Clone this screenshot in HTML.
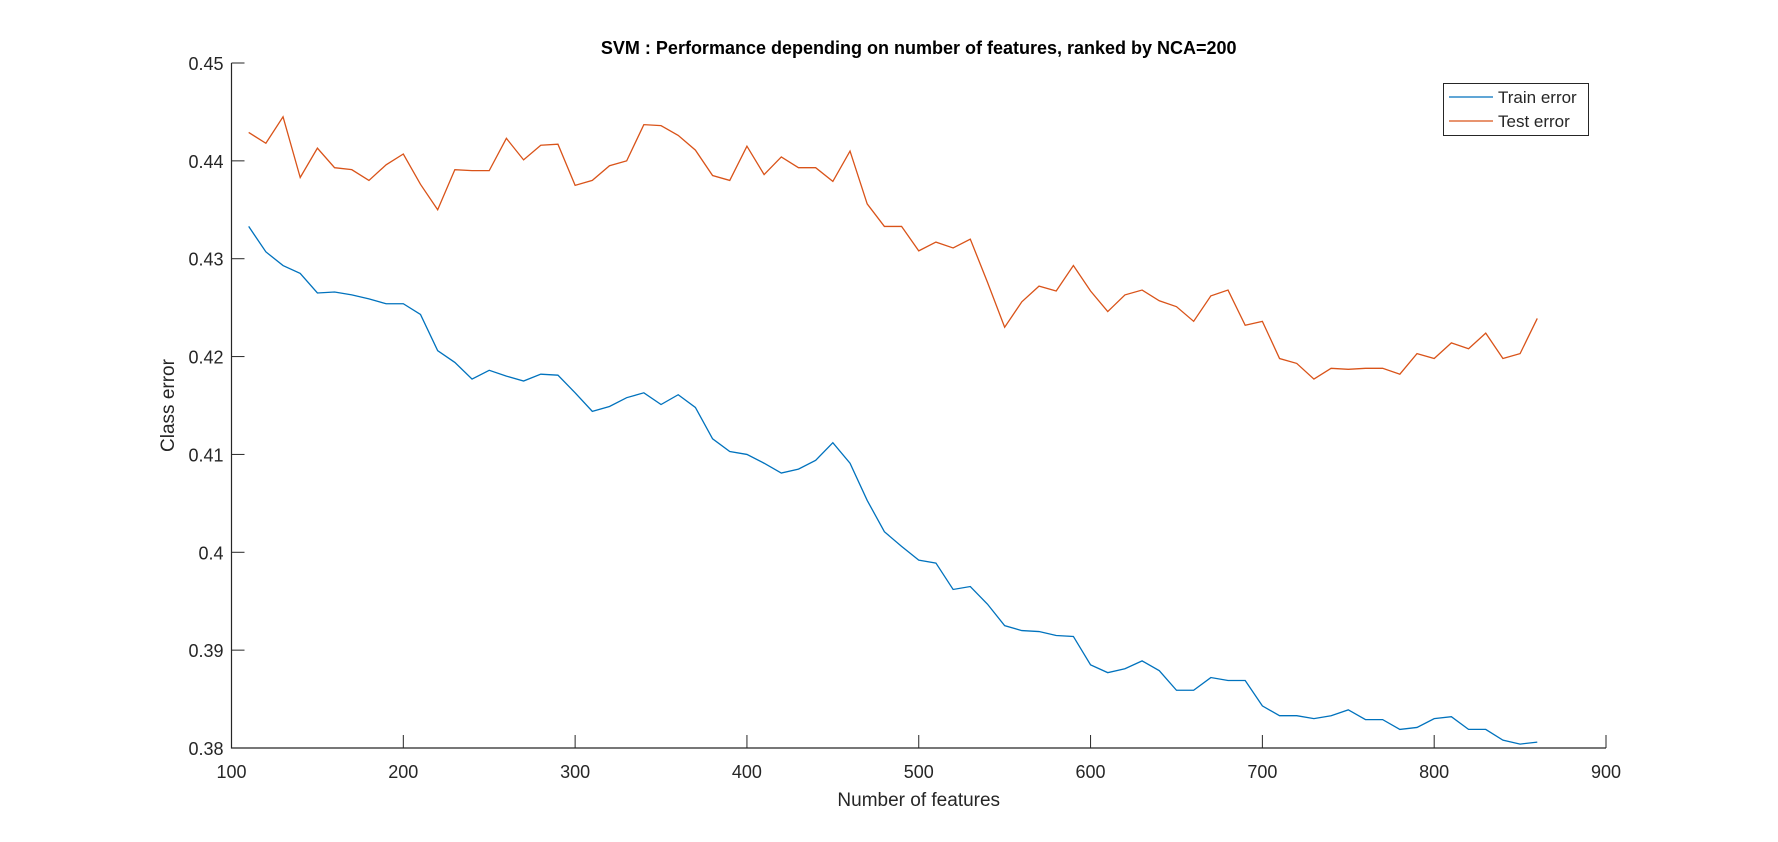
<!DOCTYPE html>
<html><head><meta charset="utf-8"><style>
html,body{margin:0;padding:0;background:#fff;}
svg{display:block;font-family:"Liberation Sans",Arial,sans-serif;}
</style></head><body>
<svg id="chart" width="1778" height="842">
<rect width="1778" height="842" fill="#fff"/>
<g id="axes"></g>
</svg>
<script>
const features = [110,120,130,140,150,160,170,180,190,200,210,220,230,240,250,260,270,280,290,300,310,320,330,340,350,360,370,380,390,400,410,420,430,440,450,460,470,480,490,500,510,520,530,540,550,560,570,580,590,600,610,620,630,640,650,660,670,680,690,700,710,720,730,740,750,760,770,780,790,800,810,820,830,840,850,860];
const testError = [0.4429,0.4418,0.4445,0.4383,0.4413,0.4393,0.4391,0.4380,0.4396,0.4407,0.4376,0.4350,0.4391,0.4390,0.4390,0.4423,0.4401,0.4416,0.4417,0.4375,0.4380,0.4395,0.4400,0.4437,0.4436,0.4426,0.4411,0.4385,0.4380,0.4415,0.4386,0.4404,0.4393,0.4393,0.4379,0.4410,0.4356,0.4333,0.4333,0.4308,0.4317,0.4311,0.4320,0.4276,0.4230,0.4256,0.4272,0.4267,0.4293,0.4267,0.4246,0.4263,0.4268,0.4257,0.4251,0.4236,0.4262,0.4268,0.4232,0.4236,0.4198,0.4193,0.4177,0.4188,0.4187,0.4188,0.4188,0.4182,0.4203,0.4198,0.4214,0.4208,0.4224,0.4198,0.4203,0.4239];
const trainError = [0.4333,0.4307,0.4293,0.4285,0.4265,0.4266,0.4263,0.4259,0.4254,0.4254,0.4243,0.4206,0.4194,0.4177,0.4186,0.4180,0.4175,0.4182,0.4181,0.4163,0.4144,0.4149,0.4158,0.4163,0.4151,0.4161,0.4148,0.4116,0.4103,0.4100,0.4091,0.4081,0.4085,0.4094,0.4112,0.4091,0.4053,0.4021,0.4006,0.3992,0.3989,0.3962,0.3965,0.3947,0.3925,0.3920,0.3919,0.3915,0.3914,0.3885,0.3877,0.3881,0.3889,0.3879,0.3859,0.3859,0.3872,0.3869,0.3869,0.3843,0.3833,0.3833,0.3830,0.3833,0.3839,0.3829,0.3829,0.3819,0.3821,0.3830,0.3832,0.3819,0.3819,0.3808,0.3804,0.3806];
const xTicks = [100,200,300,400,500,600,700,800,900];
const yTicks = [0.38,0.39,0.40,0.41,0.42,0.43,0.44,0.45];
const yTickLabels = ["0.38","0.39","0.4","0.41","0.42","0.43","0.44","0.45"];

const L=231.5,R=1606,T=63,B=748;
const xs=v=>L+(v-100)/800*(R-L);
const ys=v=>B-(v-0.38)/0.07*(B-T);
const NS="http://www.w3.org/2000/svg";
const g=document.getElementById('axes');
function mk(tag,attrs,parent){const e=document.createElementNS(NS,tag);for(const k in attrs)e.setAttribute(k,attrs[k]);(parent||g).appendChild(e);return e;}

const ax=mk('path',{d:`M${L},${T}V${B}H${R}`,fill:'none',stroke:'#262626','stroke-width':1.2});



xTicks.forEach(t=>{
  const x=xs(t);
  const tk=mk('line',{x1:x,x2:x,y1:B,y2:B-13,stroke:'#262626','stroke-width':1});
  
  
  const tx=mk('text',{x:x,y:B+30,'text-anchor':'middle','font-size':18,fill:'#262626'});
  tx.textContent=t;
  
  
});
yTicks.forEach((t,i)=>{
  const y=ys(t);
  const tk=mk('line',{x1:L,x2:L+13,y1:y,y2:y,stroke:'#262626','stroke-width':1});
  
  
  const tx=mk('text',{x:L-8,y:y+7,'text-anchor':'end','font-size':18,fill:'#262626'});
  tx.textContent=yTickLabels[i];
  
  
});

function series(vals,color,name){
  const p=mk('polyline',{points:features.map((f,i)=>xs(f)+','+ys(vals[i])).join(' '),fill:'none',stroke:color,'stroke-width':1.3});
  
  
}
series(trainError,'#0072BD','train-error-line');
series(testError,'#D95319','test-error-line');

const title=mk('text',{x:(L+R)/2,y:54,'text-anchor':'middle','font-size':18,'font-weight':'bold',fill:'#000'});
title.textContent='SVM : Performance depending on number of features, ranked by NCA=200';



const xl=mk('text',{x:(L+R)/2,y:806,'text-anchor':'middle','font-size':19,fill:'#262626'});
xl.textContent='Number of features';



const yl=mk('text',{x:0,y:0,'text-anchor':'middle','font-size':19,fill:'#262626',transform:`translate(174,${(T+B)/2}) rotate(-90)`});
yl.textContent='Class error';



const lg=mk('g',{});


mk('rect',{x:1443.5,y:83.5,width:145,height:52,fill:'#fff',stroke:'#262626','stroke-width':1},lg);
mk('line',{x1:1449,x2:1493,y1:97,y2:97,stroke:'#0072BD','stroke-width':1.3},lg);
mk('line',{x1:1449,x2:1493,y1:121,y2:121,stroke:'#D95319','stroke-width':1.3},lg);
const t1=mk('text',{x:1498,y:103,'font-size':17,fill:'#262626'},lg);
t1.textContent='Train error';


const t2=mk('text',{x:1498,y:127,'font-size':17,fill:'#262626'},lg);
t2.textContent='Test error';


</script>
</body></html>
